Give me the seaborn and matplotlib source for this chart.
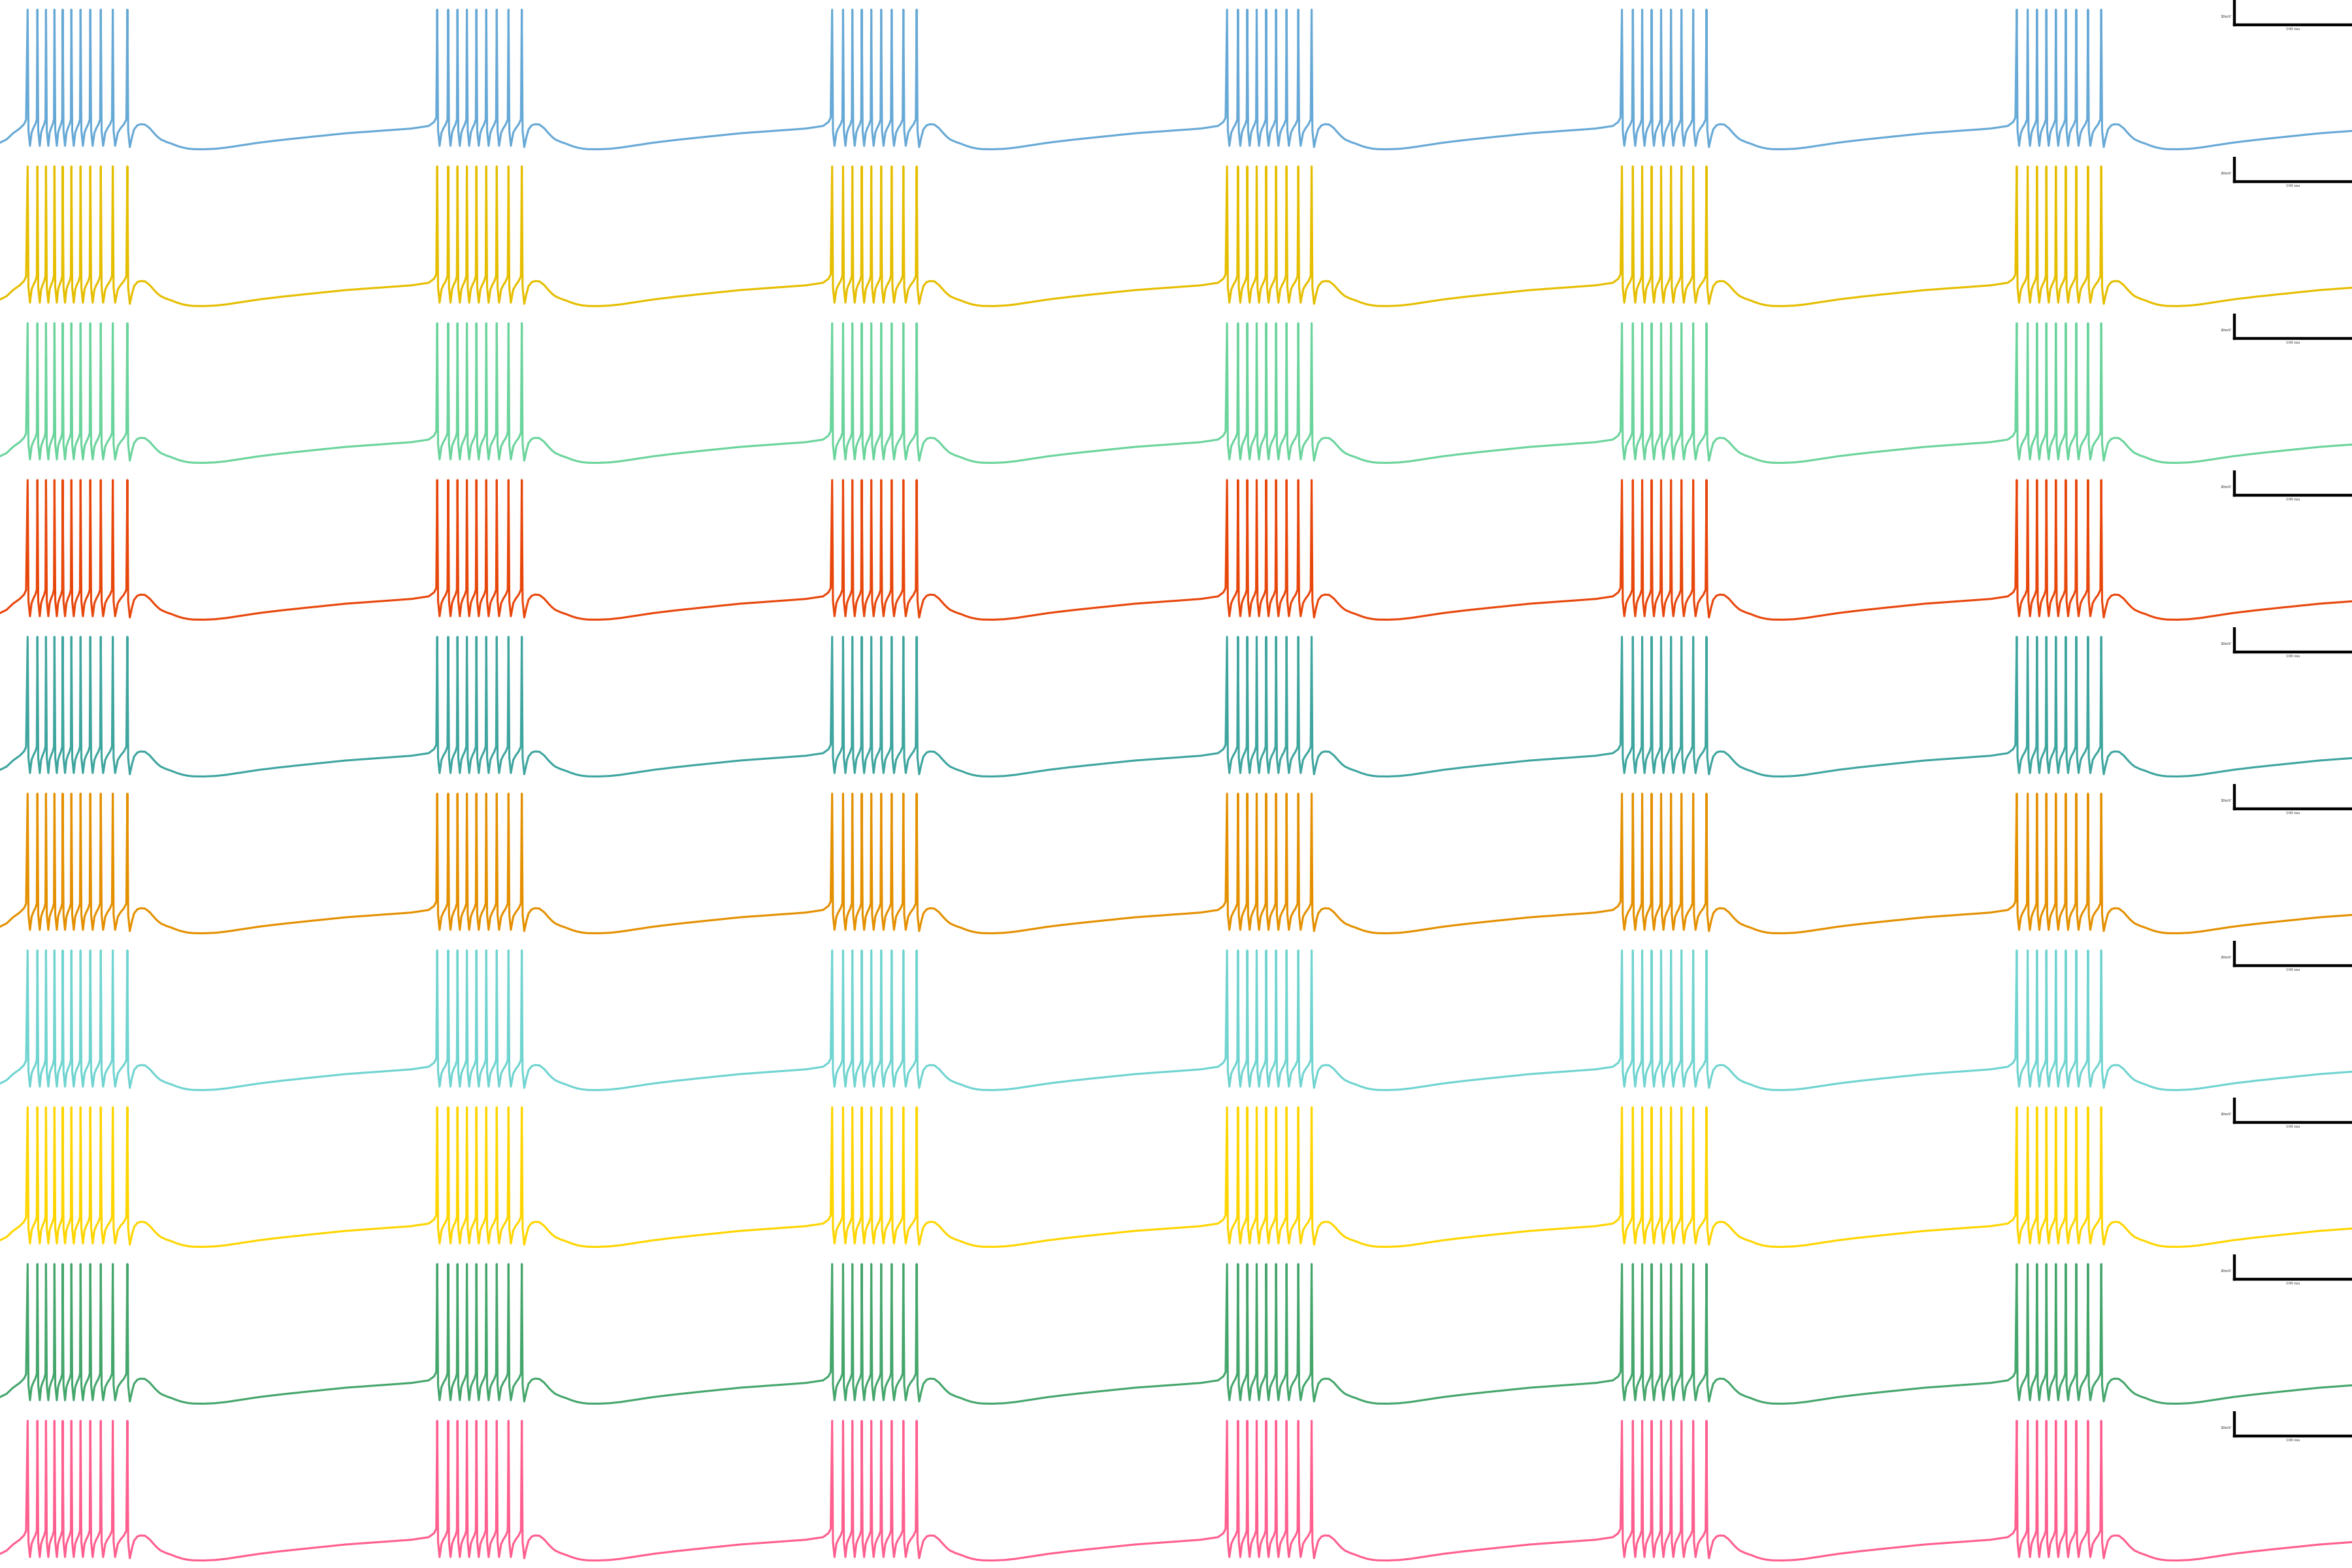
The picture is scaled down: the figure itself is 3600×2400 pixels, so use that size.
import matplotlib
matplotlib.use('Agg')
import matplotlib.pyplot as plt
import numpy as np
import pandas as pd
import seaborn as sns

# Same voltage trace in every row, only the colour changes.
# Times in ms, voltages in mV.
burst_onsets = [23.5, 371.8, 707.6, 1043.4, 1379.2, 1714.9]
first_burst_spikes = [0, 8.3, 15.6, 22.8, 29.8, 37.2, 45.0, 53.3, 62.2, 72.4, 84.8]
burst_spikes = [0, 9.3, 17.2, 25.2, 33.3, 41.7, 50.6, 60.6, 71.9]
spike_peak = 36.8

# down-stroke after a spike peak (ms after peak, mV)
fall_t = [0.7, 2.0]
fall_v = [-66.0, -79.0]

# recovery between spikes (fraction of trough -> next peak, mV)
isi_frac = [0.22, 0.45, 0.72, 0.92]
isi_v = [-67.8, -64.0, -60.6, -56.5]

# start of the recording, before the first spike
start_t = [0, 5.6, 11.1, 16.7, 20.4, 22.2]
start_v = [-76.3, -73.5, -68.3, -64.3, -60.6, -56.8]

# after the last spike of a burst: hump, slow trough, ramp (ms after last spike, mV)
post_t = [0.7, 2.1, 3.9, 5.7, 8.5, 11.3, 15.0, 18.9, 21.0, 23.3, 25.8, 28.4, 33.0, 37.7,
          42.3, 46.9, 51.5, 56.2, 65.0, 74.6, 84.0, 93.3, 111.8, 130.0, 148.8, 185.8,
          222.9, 241.4, 256.2, 260.8, 262.7]
post_v = [-66.0, -80.0, -71.7, -65.0, -61.5, -60.6, -60.9, -63.9, -66.3, -68.9, -71.4, -73.5,
          -75.6, -77.2, -79.0, -80.4, -81.3, -81.8, -81.9, -81.5, -80.5, -79.1, -76.3, -74.1,
          -72.1, -68.3, -65.6, -64.3, -62.1, -58.7, -55.0]

row_colors = ['#67a9d6', '#e6be00', '#6bd49c', '#e8470c', '#3fa59f',
              '#e49000', '#70d4d0', '#ffd500', '#45a66c', '#ff5f8f']

scale_ms = 100
scale_mv = 20
t_end = 2000
v_lim = (-88.3, 45)


def build_trace():
    t = list(start_t)
    v = list(start_v)
    for k, onset in enumerate(burst_onsets):
        spikes = first_burst_spikes if k == 0 else burst_spikes
        times = [onset + s for s in spikes]
        for i, p in enumerate(times):
            if i > 0:
                tr = times[i - 1] + fall_t[-1]
                for f, mv in zip(isi_frac, isi_v):
                    t.append(tr + f * (p - tr))
                    v.append(mv)
            t.append(p)
            v.append(spike_peak)
            if i < len(times) - 1:
                t += [p + d for d in fall_t]
                v += fall_v
        t += [times[-1] + d for d in post_t]
        v += post_v
    return pd.DataFrame({'time': t, 'voltage': v})


df = build_trace()

sns.set_style('white')
fig, axes = plt.subplots(len(row_colors), 1, figsize=(12, 8), dpi=300)
fig.subplots_adjust(left=0, right=1, bottom=0, top=1, hspace=0)

for ax, c in zip(axes, row_colors):
    sns.lineplot(data=df, x='time', y='voltage', sort=False, estimator=None,
                 color=c, lw=0.75, ax=ax)
    ax.set_xlim(0, t_end)
    ax.set_ylim(*v_lim)
    ax.axis('off')

    # scale bar in the top right corner
    x0 = t_end - scale_ms
    y0 = v_lim[1] - 21.1
    ax.plot([x0, x0], [y0, y0 + scale_mv], color='black', lw=1.05, solid_capstyle='projecting')
    ax.plot([x0, t_end + 5], [y0, y0], color='black', lw=1.05, solid_capstyle='projecting')
    ax.text(x0 - 2.5, y0 + 7, '20mV', ha='right', va='center', fontsize=1.4,
            family='DejaVu Serif')
    ax.text(x0 + scale_ms / 2, y0 - 2.2, '100 ms', ha='center', va='top', fontsize=1.4,
            family='DejaVu Serif')

plt.savefig('out.png', dpi=300)
